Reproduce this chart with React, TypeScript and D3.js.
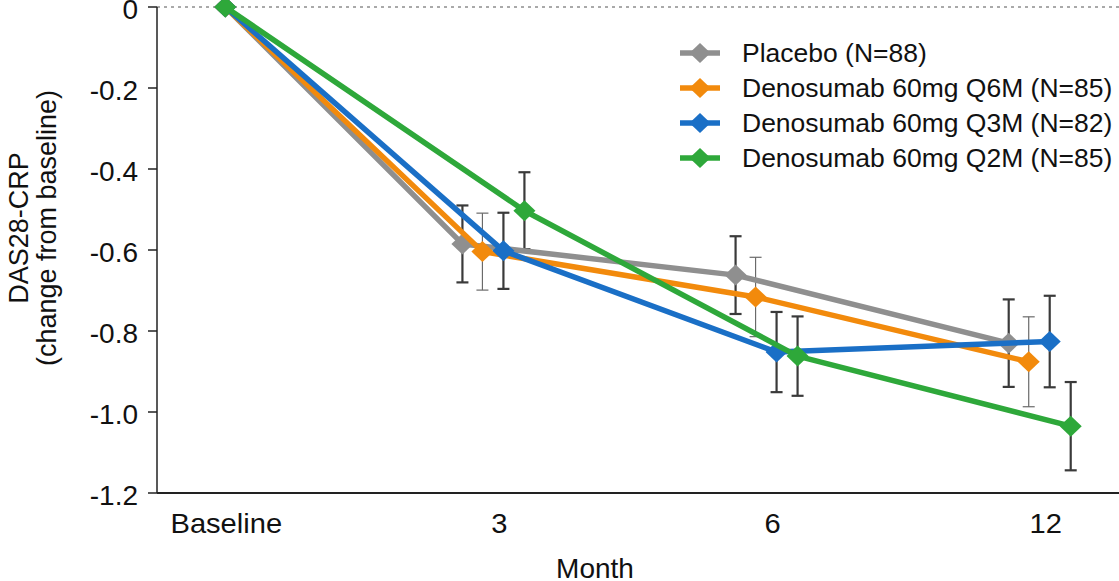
import React from "react";
import * as d3 from "d3";

const categories = ["Baseline", "3", "6", "12"];
const seriesNames = [
  "Placebo (N=88)",
  "Denosumab 60mg Q6M (N=85)",
  "Denosumab 60mg Q3M (N=82)",
  "Denosumab 60mg Q2M (N=85)",
];
const seriesColors = ["#8f8f8f", "#f28a0c", "#1a6fc6", "#2ea83a"];
const placebo = [0, -0.585, -0.662, -0.83];
const q6m = [0, -0.604, -0.716, -0.876];
const q3m = [0, -0.602, -0.852, -0.826];
const q2m = [0, -0.503, -0.862, -1.035];
const placeboErr = [0, 0.095, 0.096, 0.108];
const q6mErr = [0, 0.095, 0.098, 0.111];
const q3mErr = [0, 0.094, 0.099, 0.113];
const q2mErr = [0, 0.095, 0.098, 0.109];
const yTicks = [0, -0.2, -0.4, -0.6, -0.8, -1.0, -1.2];
const yTickLabels = ["0", "-0.2", "-0.4", "-0.6", "-0.8", "-1.0", "-1.2"];

const W = 1119;
const H = 581;
const left = 157;
const right = 1113;
const top = 7;
const bottom = 493;
const FONT = "'Liberation Sans', Arial, Helvetica, sans-serif";

const values = [placebo, q6m, q3m, q2m];
const errors = [placeboErr, q6mErr, q3mErr, q2mErr];
const dodge = [-36, -16, 5, 26];
const errWidth = [2.2, 1.2, 2.2, 2.2];
const errColor = ["#3a3a3a", "#6a6a6a", "#3a3a3a", "#3a3a3a"];

function SText(props: any) {
  const { x, y, sx = 1, rotate = 0, anchor = "start", size = 24, children } = props;
  return (
    <text
      transform={`translate(${x},${y}) rotate(${rotate}) scale(${sx},1)`}
      textAnchor={anchor}
      fontFamily={FONT}
      fontSize={size}
      fill="#111"
    >
      {children}
    </text>
  );
}

export default function App() {
  const x = d3.scalePoint<string>().domain(categories).range([left, right]).padding(0.25);
  const y = d3.scaleLinear().domain([-1.2, 0]).range([bottom, top]);
  const px = (s: number, i: number) => (x(categories[i]) as number) + (i === 0 ? 0 : dodge[s]);

  const diamond = (cx: number, cy: number, r: number) =>
    `M${cx},${cy - r}L${cx + r * 1.05},${cy}L${cx},${cy + r}L${cx - r * 1.05},${cy}Z`;

  return (
    <div style={{ position: "absolute", left: 0, top: 0 }}>
      <svg width={W} height={H} style={{ display: "block", background: "#fff" }}>
        {/* zero dashed line */}
        <line x1={left} x2={W} y1={y(0)} y2={y(0)} stroke="#555" strokeWidth={1} strokeDasharray="3,4" />
        {/* axes */}
        <line x1={left} x2={left} y1={top} y2={bottom} stroke="#222" strokeWidth={1.5} />
        <line x1={left} x2={W} y1={bottom} y2={bottom} stroke="#222" strokeWidth={2} />
        {yTicks.map((t, i) => (
          <g key={"yt" + i}>
            <line x1={left - 9} x2={left} y1={y(t)} y2={y(t)} stroke="#222" strokeWidth={1.5} />
            <SText x={138} y={y(t) + 12} size={28} anchor="end">
              {yTickLabels[i]}
            </SText>
          </g>
        ))}
        {categories.map((c, i) => (
          <SText key={"xt" + i} x={(x(c) as number) + 1} y={533} size={28} sx={1.04} anchor="middle">
            {c}
          </SText>
        ))}
        <SText x={595} y={578} size={28} anchor="middle">
          Month
        </SText>
        <SText x={28} y={228} size={27} sx={1.0} rotate={-90} anchor="middle">
          DAS28-CRP
        </SText>
        <SText x={56} y={228} size={27} sx={1.0} rotate={-90} anchor="middle">
          (change from baseline)
        </SText>

        {/* error bars */}
        {values.map((vals, s) =>
          vals.map((v, i) => {
            if (i === 0) return null;
            const cx = px(s, i);
            const e = errors[s][i];
            return (
              <g key={`e${s}-${i}`} stroke={errColor[s]} strokeWidth={errWidth[s]}>
                <line x1={cx} x2={cx} y1={y(v + e)} y2={y(v - e)} />
                <line x1={cx - 6} x2={cx + 6} y1={y(v + e)} y2={y(v + e)} />
                <line x1={cx - 6} x2={cx + 6} y1={y(v - e)} y2={y(v - e)} />
              </g>
            );
          })
        )}

        {/* lines + markers */}
        {values.map((vals, s) => {
          const l = d3
            .line<number>()
            .x((_, i) => px(s, i))
            .y((v) => y(v));
          return (
            <g key={"s" + s}>
              <path d={l(vals) as string} fill="none" stroke={seriesColors[s]} strokeWidth={5.5} strokeLinejoin="round" />
              {vals.map((v, i) => (
                <path key={i} d={diamond(px(s, i), y(v), 10.5)} fill={seriesColors[s]} />
              ))}
            </g>
          );
        })}

        {/* legend */}
        {seriesNames.map((n, s) => {
          const ly = 53 + s * 35;
          return (
            <g key={"lg" + s}>
              <line x1={680} x2={720} y1={ly} y2={ly} stroke={seriesColors[s]} strokeWidth={5.5} />
              <path d={diamond(700, ly, 10)} fill={seriesColors[s]} />
              <SText x={742} y={ly + 9} size={25} sx={1.06}>
                {n}
              </SText>
            </g>
          );
        })}
      </svg>
    </div>
  );
}
